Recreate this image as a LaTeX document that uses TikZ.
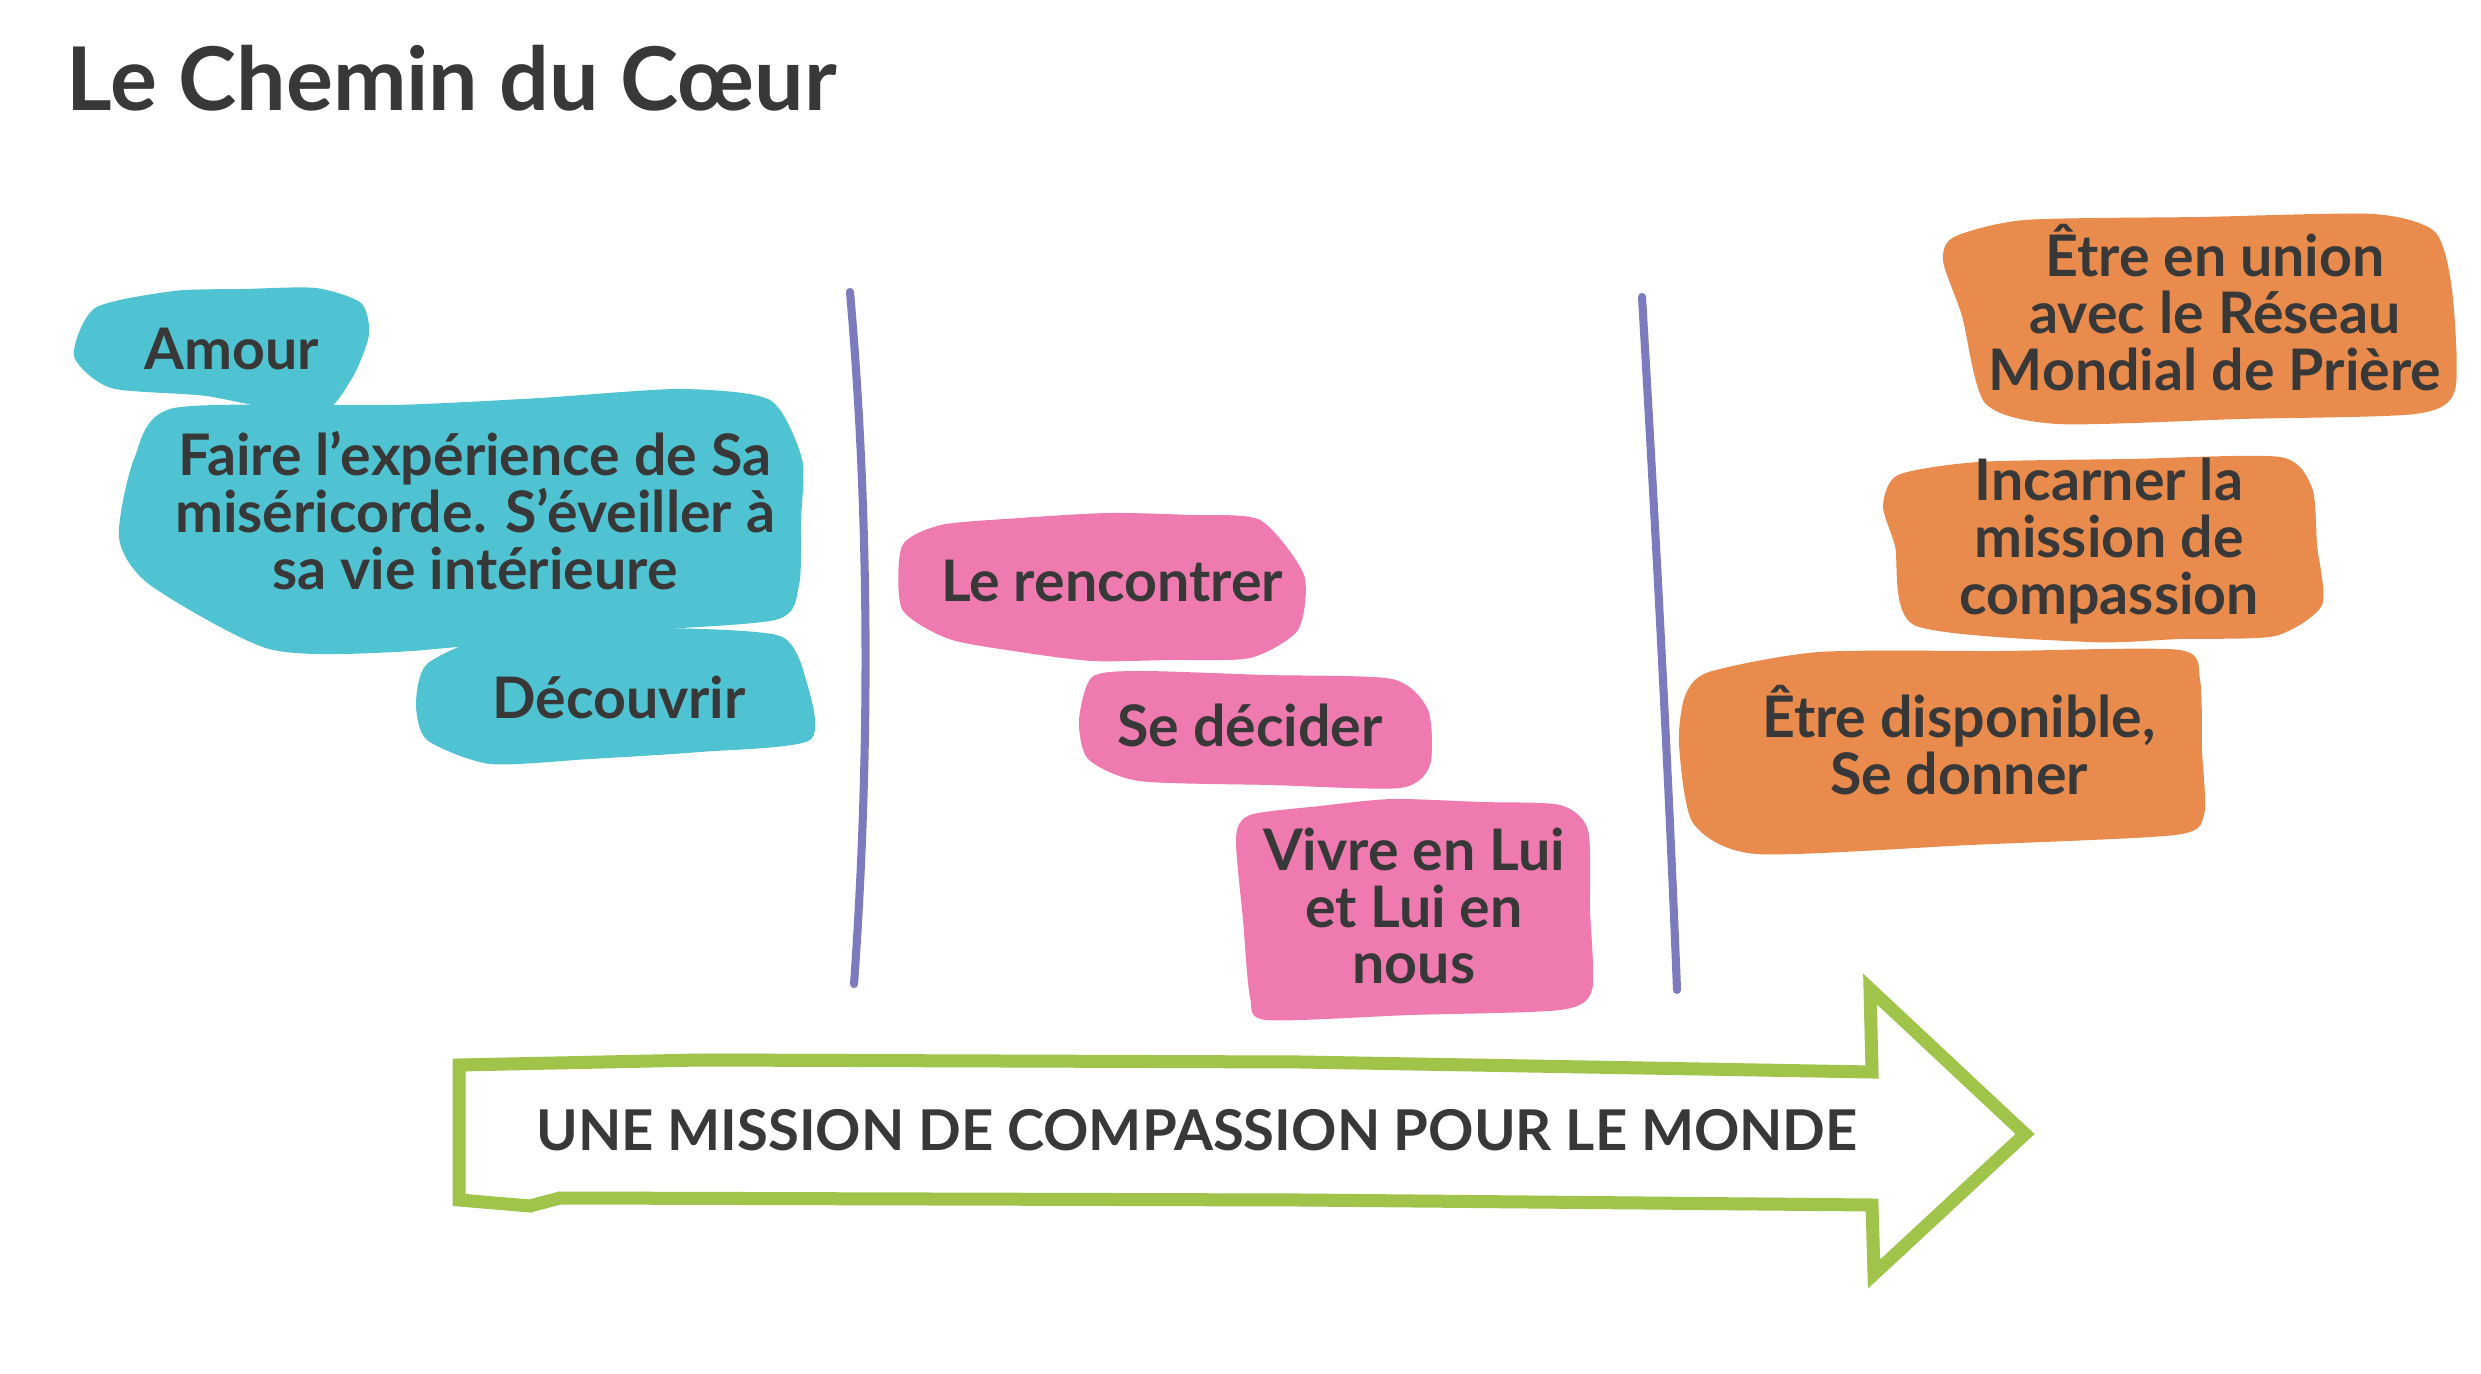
\documentclass[tikz,border=0pt]{standalone}
\usepackage{fontspec}
\setmainfont{Lato}
\definecolor{txt}{HTML}{383838}
\definecolor{cyanb}{HTML}{50C3D2}
\definecolor{pinkb}{HTML}{EE7AB0}
\definecolor{orangeb}{HTML}{E88B4C}
\definecolor{purpl}{HTML}{7B7BBE}
\definecolor{greenb}{HTML}{A0C34A}
\begin{document}
\begin{tikzpicture}[x=0.1mm,y=-0.1mm,
  blob/.style={smooth cycle, tension=0.42},
  lbl/.style={text=txt, font=\bfseries\fontsize{16.3}{16.2}\selectfont, align=center, inner sep=0pt},
  divider/.style={draw=purpl, line width=2.3pt, line cap=round},
  arrowbox/.style={draw=greenb, fill=white, line width=3.7pt, line join=miter}]
\useasboundingbox (0,0) rectangle (2481,1374);
\fill[white] (0,0) rectangle (2481,1374);

% title
\node[text=txt, font=\bfseries\fontsize{25}{29}\selectfont, anchor=base west, inner sep=0pt] (title) at (66,111) {Le Chemin du C\oe ur};

% cyan blobs
\fill[cyanb] plot[blob] coordinates {(74,356) (95,308) (174,291) (245,289) (316,288) (361,303) (369,335) (351,380) (316,415) (206,396) (111,388)};
\fill[cyanb] plot[blob] coordinates {(174,408) (396,405) (540,398) (680,389) (770,400) (802,459) (801,520) (799,585) (775,620) (601,633) (396,652) (269,649) (150,585) (119,538) (134,459)};
\fill[cyanb] plot[blob] coordinates {(427,664) (490,636) (580,631) (665,628) (780,636) (806,680) (810,740) (700,752) (590,759) (490,764) (427,740) (416,704)};

% pink blobs
\fill[pinkb] plot[blob] coordinates {(902,546) (941,525) (1020,518) (1108,513) (1190,515) (1260,520) (1304,575) (1298,630) (1250,658) (1170,660) (1092,661) (1020,652) (949,639) (902,609)};
\fill[pinkb] plot[blob] coordinates {(1092,677) (1139,671) (1265,675) (1392,679) (1428,710) (1430,765) (1400,788) (1270,785) (1139,781) (1088,759) (1079,720)};
\fill[pinkb] plot[blob] coordinates {(1250,815) (1320,806) (1392,799) (1480,802) (1560,805) (1588,830) (1590,910) (1592,990) (1560,1010) (1410,1015) (1266,1020) (1250,997) (1243,920) (1236,838)};

% orange blobs
\fill[orangeb] plot[blob] coordinates {(1954,237) (2025,220) (2200,217) (2373,214) (2435,232) (2452,290) (2455,390) (2415,414) (2240,419) (2057,424) (1985,403) (1962,316) (1943,261)};
\fill[orangeb] plot[blob] coordinates {(1898,475) (1978,462) (2130,459) (2280,457) (2312,488) (2317,545) (2322,605) (2275,636) (2180,639) (2088,642) (1914,625) (1895,546) (1883,506)};
\fill[orangeb] plot[blob] coordinates {(1709,672) (1819,652) (2000,651) (2180,650) (2200,680) (2202,750) (2204,815) (2175,835) (1970,845) (1756,854) (1693,823) (1679,744) (1685,696)};

% dividers
\coordinate (d1a) at (850,292);
\coordinate (d1b) at (854,984);
\coordinate (d2a) at (1642,297);
\coordinate (d2b) at (1677,990);
\draw[divider] (d1a) .. controls (870,520) and (870,760) .. (d1b);
\draw[divider] (d2a) .. controls (1655,520) and (1668,760) .. (d2b);

% arrow
\draw[arrowbox] (459,1065) -- (700,1060) -- (1300,1062) -- (1872,1072) -- (1870,989) -- (2025,1134) -- (1874,1274) -- (1872,1205) -- (1300,1200) -- (560,1198) -- (530,1206) -- (459,1200) -- cycle;
\node[text=txt, font=\bfseries\fontsize{16}{19}\selectfont, inner sep=0pt] (mission) at (1197,1130) {UNE MISSION DE COMPASSION POUR LE MONDE};

% labels
\node[lbl] (amour) at (232,349) {Amour};
\node[lbl] (faire) at (475,511) {Faire l’expérience de Sa\\miséricorde. S’éveiller à\\sa vie intérieure};
\node[lbl] (decouvrir) at (619,697) {Découvrir};
\node[lbl] (rencontrer) at (1112,581) {Le rencontrer};
\node[lbl] (decider) at (1250,725) {Se décider};
\node[lbl] (vivre) at (1414,906) {Vivre en Lui\\et Lui en\\nous};
\node[lbl] (union) at (2215,308) {Être en union\\avec le Réseau\\Mondial de Prière};
\node[lbl] (incarner) at (2109,541) {Incarner la\\mission de\\compassion};
\node[lbl] (dispo) at (1959,740) {Être disponible,\\Se donner};
\end{tikzpicture}
\end{document}
